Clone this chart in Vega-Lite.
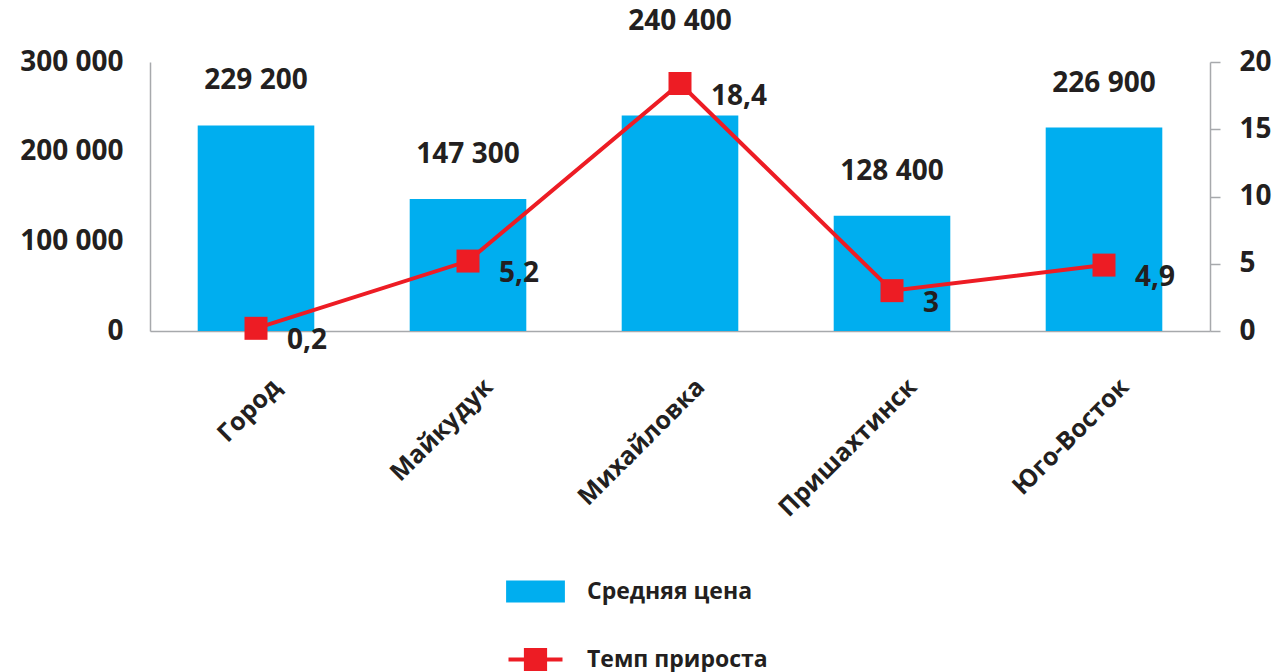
{
  "$schema": "https://vega.github.io/schema/vega-lite/v6.json",
  "width": 1060,
  "height": 269,
  "autosize": {"type": "none"},
  "padding": {"left": 150, "top": 62, "right": 64, "bottom": 341},
  "background": "white",
  "config": {
    "locale": {"number": {"decimal": ",", "thousands": " ", "grouping": [3], "currency": ["", ""]}},
    "view": {"stroke": null},
    "font": "Open Sans"
  },
  "data": {"values": [
    {"cat": "Город", "price": 229200, "growth": 0.2},
    {"cat": "Майкудук", "price": 147300, "growth": 5.2},
    {"cat": "Михайловка", "price": 240400, "growth": 18.4},
    {"cat": "Пришахтинск", "price": 128400, "growth": 3},
    {"cat": "Юго-Восток", "price": 226900, "growth": 4.9}
  ]},
  "encoding": {
    "x": {
      "field": "cat", "type": "nominal", "sort": null,
      "scale": {"paddingInner": 0.45, "paddingOuter": 0.225},
      "axis": {
        "title": null, "labelAngle": -45, "ticks": false, "grid": false,
        "domainColor": "#A7A9AC", "domainWidth": 1.5,
        "labelFont": "Open Sans", "labelFontSize": 25, "labelFontWeight": "bold",
        "labelColor": "#231F20", "labelOffset": 12, "labelPadding": 43, "labelLimit": 400
      }
    }
  },
  "layer": [
    {
      "encoding": {
        "y": {
          "field": "price", "type": "quantitative",
          "scale": {"domain": [0, 300000]},
          "axis": {
            "title": null, "values": [0, 100000, 200000, 300000], "format": ",d",
            "ticks": false, "grid": false, "labelFlush": false,
            "domainColor": "#A7A9AC", "domainWidth": 1.5, "labelPadding": 27,
            "labelFont": "Open Sans", "labelFontSize": 28, "labelFontWeight": "bold",
            "labelColor": "#231F20"
          }
        }
      },
      "layer": [
        {
          "mark": {"type": "bar"},
          "encoding": {
            "color": {
              "datum": "Средняя цена", "type": "nominal",
              "scale": {"domain": ["Средняя цена", "Темп прироста"], "range": ["#00AEEF", "#ED1C24"]},
              "legend": {
                "title": null, "orient": "none", "legendX": 374, "legendY": 518,
                "direction": "vertical", "padding": 0,
                "symbolSize": 3600, "rowPadding": 37, "labelOffset": 40, "labelLimit": 400,
                "labelFont": "Open Sans", "labelFontSize": 23, "labelFontWeight": "bold",
                "labelColor": "#231F20",
                "encode": {
                  "symbols": {
                    "update": {
                      "shape": {"signal": "datum.value === 'Средняя цена' ? 'M-0.98,-0.37H0.98V0.37H-0.98Z' : 'M-0.9,0H0.9M-0.32,-0.32H0.32V0.32H-0.32Z'"},
                      "size": {"value": 3600},
                      "fill": {"signal": "datum.value === 'Средняя цена' ? '#00AEEF' : '#ED1C24'"},
                      "stroke": {"signal": "datum.value === 'Средняя цена' ? '#00AEEF' : '#ED1C24'"},
                      "strokeWidth": {"signal": "datum.value === 'Средняя цена' ? 0 : 4"},
                      "opacity": {"value": 1},
                      "fillOpacity": {"value": 1},
                      "strokeOpacity": {"value": 1}
                    }
                  }
                }
              }
            }
          }
        },
        {
          "transform": [{"filter": "datum.cat !== 'Михайловка'"}],
          "mark": {"type": "text", "dy": -44, "baseline": "middle", "font": "Open Sans", "fontSize": 28, "fontWeight": "bold", "color": "#231F20"},
          "encoding": {"text": {"field": "price", "type": "quantitative", "format": ",d"}}
        },
        {
          "transform": [{"filter": "datum.cat === 'Михайловка'"}],
          "mark": {"type": "text", "dy": -93, "baseline": "middle", "font": "Open Sans", "fontSize": 28, "fontWeight": "bold", "color": "#231F20"},
          "encoding": {"text": {"field": "price", "type": "quantitative", "format": ",d"}}
        }
      ]
    },
    {
      "encoding": {
        "y": {
          "field": "growth", "type": "quantitative",
          "scale": {"domain": [0, 20]},
          "axis": {
            "orient": "right", "title": null, "values": [0, 5, 10, 15, 20],
            "grid": false, "labelFlush": false,
            "domainColor": "#A7A9AC", "domainWidth": 1.5, "tickColor": "#A7A9AC", "tickWidth": 1.5, "tickSize": 10,
            "labelPadding": 19,
            "labelFont": "Open Sans", "labelFontSize": 28, "labelFontWeight": "bold",
            "labelColor": "#231F20"
          }
        }
      },
      "layer": [
        {
          "mark": {"type": "line", "strokeWidth": 4, "point": {"shape": "square", "size": 529, "filled": true, "opacity": 1}},
          "encoding": {"color": {"datum": "Темп прироста", "type": "nominal"}}
        },
        {
          "mark": {"type": "text", "align": "left", "baseline": "middle", "dx": 31, "dy": 13, "font": "Open Sans", "fontSize": 28, "fontWeight": "bold", "color": "#231F20"},
          "encoding": {"text": {"field": "growth", "type": "quantitative", "format": ".1~f"}}
        }
      ]
    }
  ],
  "resolve": {"scale": {"y": "independent"}}
}
